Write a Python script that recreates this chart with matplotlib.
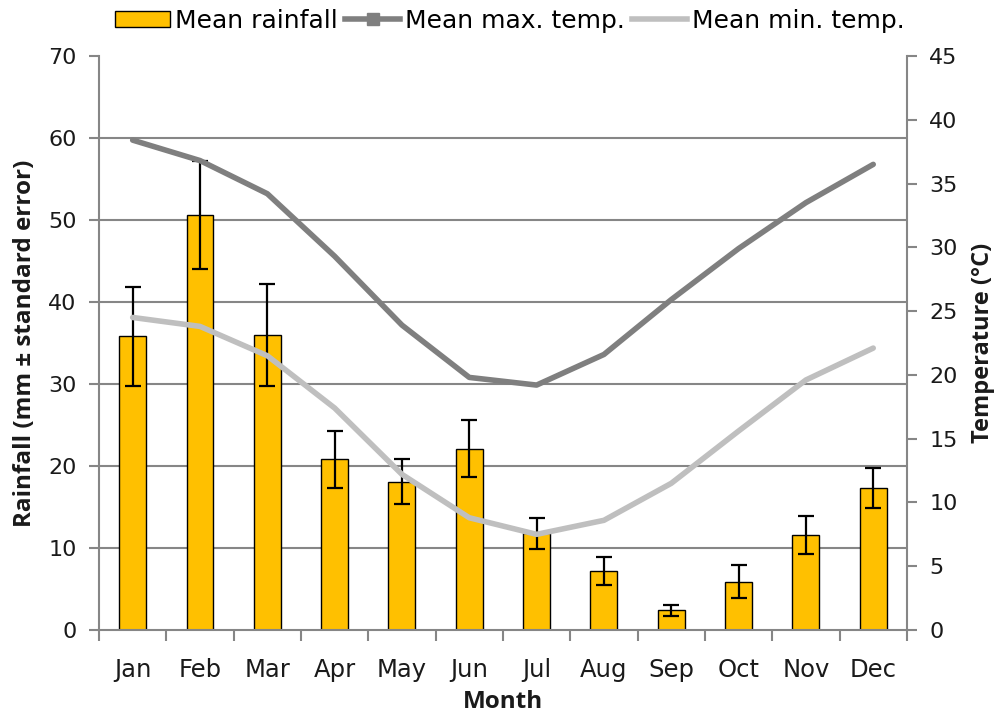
import matplotlib
matplotlib.use("Agg")
import matplotlib.pyplot as plt
from matplotlib.lines import Line2D
from matplotlib.patches import Patch
import numpy as np

months = ["Jan", "Feb", "Mar", "Apr", "May", "Jun",
          "Jul", "Aug", "Sep", "Oct", "Nov", "Dec"]
rain_mean = [35.8, 50.6, 36.0, 20.8, 18.1, 22.1, 11.8, 7.2, 2.4, 5.9, 11.6, 17.3]
rain_se = [6.0, 6.6, 6.2, 3.5, 2.7, 3.5, 1.9, 1.65, 0.7, 2.05, 2.35, 2.4]
tmax = [38.4, 36.8, 34.2, 29.3, 23.9, 19.8, 19.2, 21.6, 25.9, 29.9, 33.5, 36.5]
tmin = [24.5, 23.8, 21.5, 17.4, 12.2, 8.8, 7.5, 8.6, 11.5, 15.6, 19.6, 22.1]

GRID = "#868686"
TXT = "#1a1a1a"
plt.rcParams["font.family"] = ["DejaVu Sans"]

fig = plt.figure(figsize=(10.01, 7.17), dpi=100)
ax = fig.add_axes([0.0989, 0.1213, 0.8071, 0.8007])
x = np.arange(len(months))

ax.bar(x, rain_mean, width=0.4, color="#FFC000", edgecolor="black", lw=1.0, zorder=2)
ax.errorbar(x, rain_mean, yerr=rain_se, fmt="none", ecolor="black",
            elinewidth=1.6, capsize=6, capthick=1.6, zorder=3)

ax.set_xlim(-0.5, 11.5)
ax.set_ylim(0, 70)
ax.set_yticks(range(0, 71, 10))
ax.yaxis.grid(True, color=GRID, lw=1.5, zorder=0)
for gl, t in zip(ax.get_ygridlines(), ax.get_yticks()):
    if t in (0, 70):
        gl.set_visible(False)
ax.set_axisbelow(True)
ax.set_xticks(x)
ax.set_xticklabels(months)
ax.set_xticks(np.arange(-0.5, 12, 1), minor=True)
ax.tick_params(axis="x", which="major", length=0, pad=20, labelsize=17.5, labelcolor=TXT)
ax.tick_params(axis="x", which="minor", length=8, width=1.5, color=GRID, direction="out")
ax.tick_params(axis="y", length=7, width=1.5, color=GRID, labelsize=16, labelcolor=TXT, pad=9)
for s in ("left", "bottom"):
    ax.spines[s].set_color(GRID)
    ax.spines[s].set_linewidth(1.5)
ax.spines["top"].set_visible(False)
ax.spines["right"].set_visible(False)

ax.set_ylabel("Rainfall (mm ± standard error)", fontsize=17.5, fontweight="bold",
              family="Open Sans", color=TXT, labelpad=8)
ax.set_xlabel("Month", fontsize=17.5, fontweight="bold", family="Open Sans",
              color=TXT, labelpad=6)

ax2 = ax.twinx()
ax2.plot(x, tmax, color="#7F7F7F", lw=4, solid_capstyle="round", zorder=4)
ax2.plot(x, tmin, color="#BFBFBF", lw=4, solid_capstyle="round", zorder=4)
ax2.set_ylim(0, 45)
ax2.set_yticks(range(0, 46, 5))
ax2.tick_params(axis="y", length=7, width=1.5, color=GRID, labelsize=16, labelcolor=TXT, pad=9)
for s in ("left", "top", "bottom"):
    ax2.spines[s].set_visible(False)
ax2.spines["right"].set_color(GRID)
ax2.spines["right"].set_linewidth(1.5)
ax2.set_ylabel("Temperature (°C)", fontsize=17, fontweight="bold",
               family="Open Sans", color=TXT, labelpad=10)

handles = [
    Patch(facecolor="#FFC000", edgecolor="black", lw=1.0),
    Line2D([], [], color="#7F7F7F", lw=4, marker="s", markersize=9),
    Line2D([], [], color="#BFBFBF", lw=4),
]
labels = ["Mean rainfall", "Mean max. temp.", "Mean min. temp."]
fig.legend(handles, labels, loc="center", bbox_to_anchor=(0.5095, 0.971), ncol=3,
           frameon=False, prop={"size": 18},
           handlelength=2.2, handletextpad=0.2, columnspacing=0.3,
           handleheight=0.6, borderpad=0)

fig.savefig("out.png", dpi=100)
